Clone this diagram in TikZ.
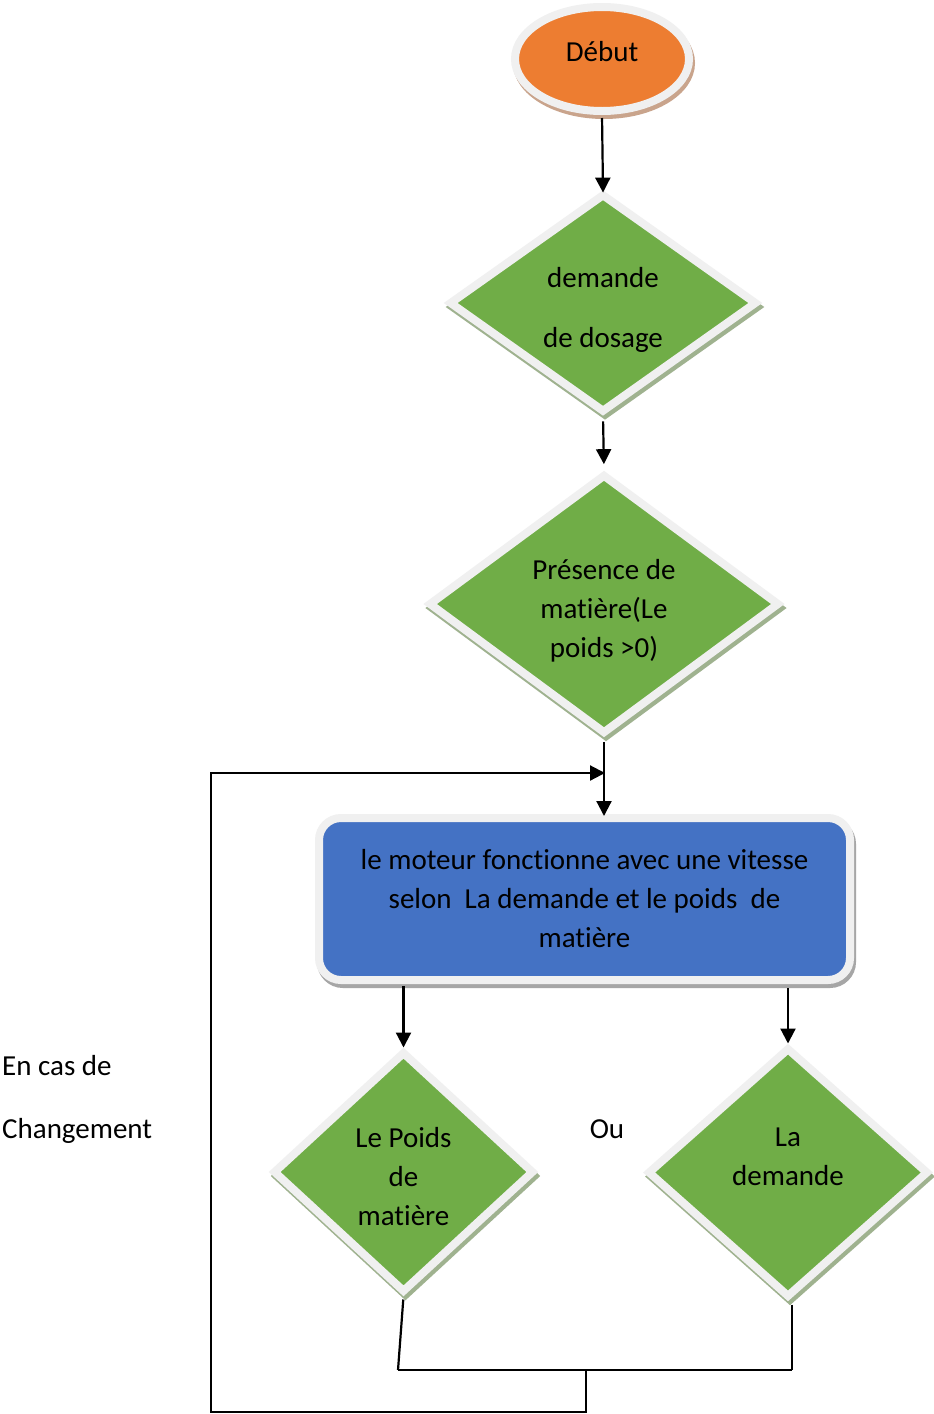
\documentclass[tikz,border=0pt]{standalone}
\usepackage{fontspec}
\setmainfont{Carlito}[Ligatures={NoCommon,NoRequired,NoContextual,NoDiscretionary}]
\usetikzlibrary{shapes.geometric,arrows.meta}
\definecolor{startorange}{HTML}{ED7D31}
\definecolor{testgreen}{HTML}{70AD47}
\definecolor{actionblue}{HTML}{4472C4}
\definecolor{rim}{HTML}{F0F0F0}
\definecolor{greenshade}{HTML}{9FB28F}
\definecolor{orangeshade}{HTML}{C9A48C}
\definecolor{blueshade}{HTML}{A6A6A6}
\newcommand{\lift}[1]{\rule{0pt}{#1}}
\tikzset{
  shade under/.style={preaction={draw=#1,fill=#1,transform canvas={shift={(2pt,-4pt)}}}},
  shapebase/.style={draw=rim, line width=8pt, inner sep=0pt, align=center,
    text=black, font=\fontsize{29}{39}\selectfont},
  startnode/.style={shapebase, ellipse, fill=startorange, shade under=orangeshade},
  testnode/.style={shapebase, diamond, fill=testgreen, shade under=greenshade},
  actionnode/.style={shapebase, rectangle, rounded corners=22pt, fill=actionblue,
    shade under=blueshade},
  flow/.style={line width=2.2pt, draw=black},
  arrow/.style={flow, -{Triangle[length=15pt,width=15pt]}},
  note/.style={font=\fontsize{29}{39}\selectfont, inner sep=0pt},
}
\begin{document}
\begin{tikzpicture}[x=1pt,y=-1pt]
\useasboundingbox (0,0) rectangle (934,1414);
\fill[white] (0,0) rectangle (934,1414);

% shapes of the flow
\node[startnode, minimum width=174pt, minimum height=104pt] (start) at (602,59)
  {\rule[-16pt]{0pt}{16pt}Début};
\node[testnode, minimum width=308pt, minimum height=206pt] (ask) at (603,303)
  {\lift{34pt}demande\\[21pt]de dosage};
\node[testnode, minimum width=351pt, minimum height=244pt] (matter) at (604,604)
  {\lift{34pt}Présence de\\matière(Le\\poids >0)};
\node[actionnode, minimum width=531pt, minimum height=162pt] (motor) at (584.5,899)
  {le moteur fonctionne avec une vitesse\\selon~ La demande et le poids~ de\\matière};
\node[testnode, minimum width=261pt, minimum height=241pt] (weight) at (403.5,1172)
  {\lift{30pt}Le Poids\\de\\matière};
\node[testnode, minimum width=281pt, minimum height=250pt] (request) at (788,1172.5)
  {\lift{26pt}La\\demande\\\mbox{}};

% side texts
\node[note, anchor=base west] (case) at (2,1075) {En cas de};
\node[note, anchor=base west] (change) at (2,1138) {Changement};
\node[note, anchor=base] (either) at (607,1138) {Ou};

% points of the feedback loop
\coordinate (entry) at (605,773);
\coordinate (jl) at (398,1370);
\coordinate (jr) at (792,1370);
\coordinate (jm) at (586,1370);
\coordinate (bl) at (211,1412);

% connectors
\draw[arrow, shorten <=3pt, shorten >=-3pt] (start.south) -- (ask.north);
\draw[arrow, shorten <=5pt, shorten >=6pt] (ask.south) -- (matter.north);
\draw[arrow, shorten <=4pt, shorten >=-2pt] (matter.south) -- (matter.south |- motor.north);
\draw[arrow, shorten <=2pt] (weight.north |- motor.south) -- (weight.north);
\draw[arrow, shorten <=4pt] (request.north |- motor.south) -- (request.north);
\draw[flow, shorten <=3pt] (weight.south) -- (jl);
\draw[flow, shorten <=3pt] (jr |- request.south) -- (jr);
\draw[flow] (jl) -- (jr);
\draw[arrow] (jm) |- (bl) |- (entry);
\end{tikzpicture}
\end{document}
